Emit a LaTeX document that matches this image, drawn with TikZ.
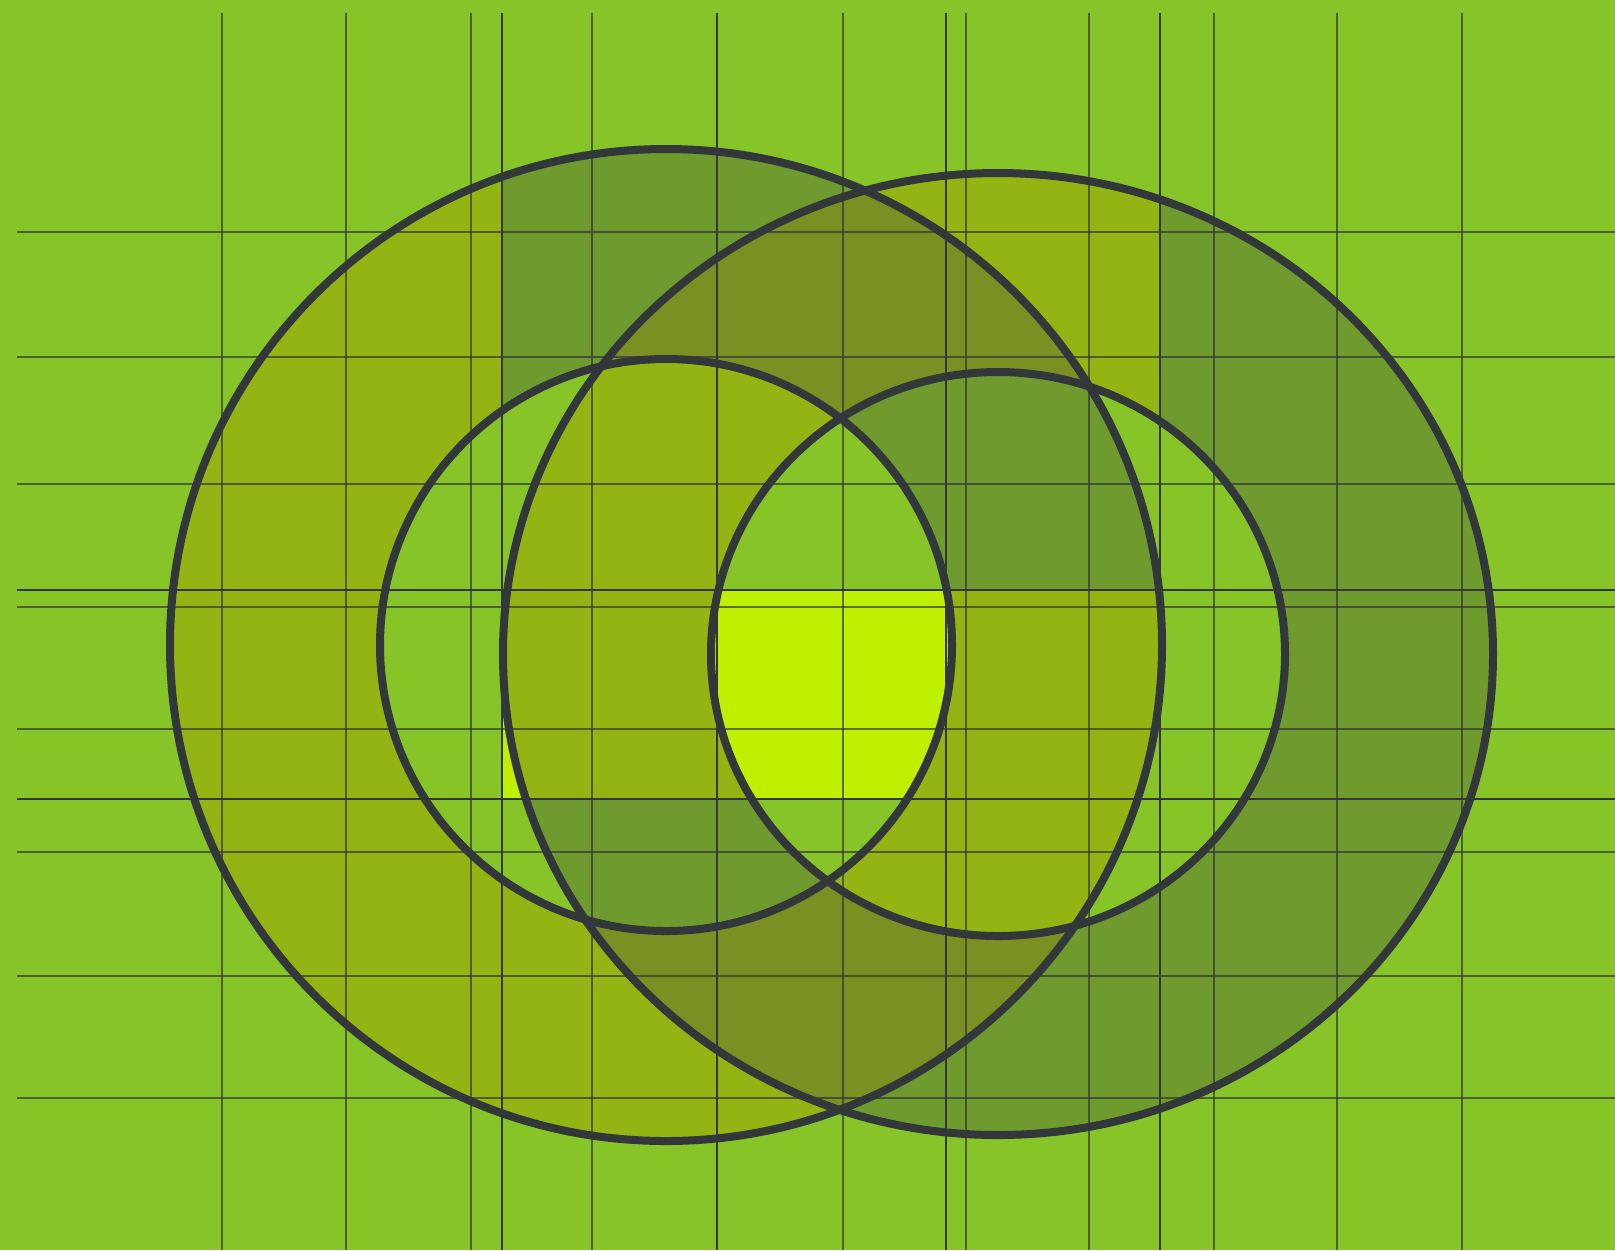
\documentclass[tikz,border=0pt]{standalone}
\usetikzlibrary{calc}
\definecolor{FieldGreen}{HTML}{87C428}
\definecolor{RingOlive}{HTML}{93B513}
\definecolor{RingDark}{HTML}{6E9A2E}
\definecolor{RingMix}{HTML}{7B9022}
\definecolor{LensYellow}{HTML}{BEF000}
\definecolor{InkGrey}{HTML}{32373A}
\tikzset{
  gridline/.style={draw=InkGrey,draw opacity=0.7,line width=0.025cm},
  guideline/.style={draw=InkGrey,line width=0.028cm},
  ringline/.style={draw=InkGrey,line width=0.08cm},
  leftouter/.style={insert path={(lc) circle[radius=496]}},
  leftinner/.style={insert path={(lc) circle[radius=286]}},
  rightouter/.style={insert path={(rc) ellipse[x radius=495,y radius=481]}},
  rightinner/.style={insert path={(rc) ellipse[x radius=287,y radius=282]}}
}
% colour of each ring, by band
\newcommand{\paintleft}{%
  \fill[RingOlive] (0,0) rectangle (1615,1250);
  \fill[RingDark] (502,0) rectangle (1615,590);}
\newcommand{\paintright}{%
  \fill[RingDark] (0,0) rectangle (1615,1250);
  \fill[RingOlive] (502,0) rectangle (1160,799);}
\newcommand{\paintlens}{%
  \fill[FieldGreen] (0,0) rectangle (1615,1250);
  \fill[LensYellow] (502,590) rectangle (1160,799);}

\begin{document}
\begin{tikzpicture}[x=0.01cm,y=-0.01cm]
  \useasboundingbox (0,0) rectangle (1615,1250);
  \coordinate (lc) at (666,645);
  \coordinate (rc) at (998,654);
  \fill[FieldGreen] (0,0) rectangle (1615,1250);

  \begin{scope}
    \clip[leftouter];
    \paintleft
  \end{scope}
  \begin{scope}
    \clip[rightouter];
    \paintright
    \clip[leftouter];
    \fill[RingMix] (0,0) rectangle (1615,1250);
  \end{scope}
  \begin{scope}
    \clip[rightinner];
    \fill[FieldGreen] (0,0) rectangle (1615,1250);
    \clip[leftouter];
    \paintleft
  \end{scope}
  \begin{scope}
    \clip[leftinner];
    \paintlens
    \clip[rightouter];
    \paintright
    \clip[rightinner];
    \paintlens
  \end{scope}

  % grid
  \foreach \gx in {222,346,471,592,717,843,966,1089,1214,1337,1462}
    \draw[gridline] (\gx,13) -- (\gx,1250);
  \foreach \gy in {232,357,484,607,729,852,976,1098}
    \draw[gridline] (17,\gy) -- (1615,\gy);
  \foreach \gx in {502,717,946,1160}
    \draw[guideline] (\gx,13) -- (\gx,1250);
  \foreach \gy in {590,799}
    \draw[guideline] (17,\gy) -- (1615,\gy);

  % rings
  \draw[ringline,leftouter];
  \draw[ringline,leftinner];
  \draw[ringline,rightouter];
  \draw[ringline,rightinner];
\end{tikzpicture}
\end{document}
